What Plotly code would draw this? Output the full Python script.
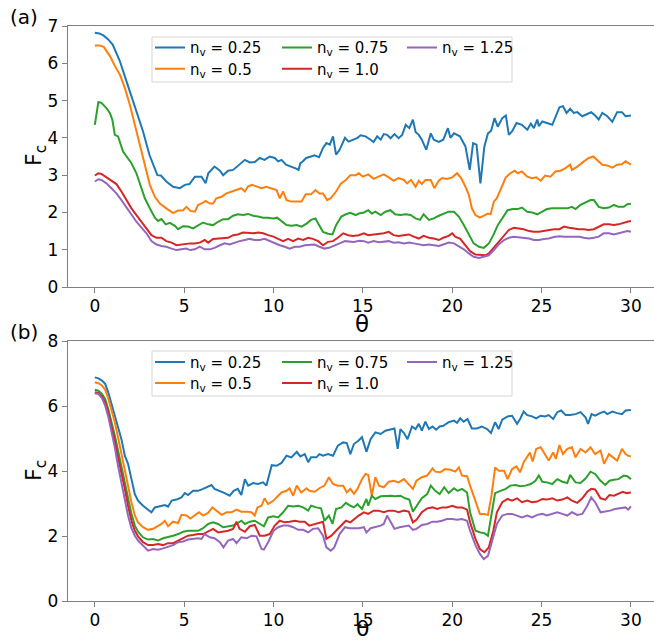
import plotly.graph_objects as go

# ---------------- data (theta, F_c) ----------------
NV_LABELS = ["0.25", "0.5", "0.75", "1.0", "1.25"]
COLORS = ["#1f77b4", "#ff7f0e", "#2ca02c", "#d62728", "#9467bd"]

a_025 = [(0,6.82),(0.25,6.80),(0.5,6.74),(0.75,6.64),(1.0,6.5),(1.4,6.06),(1.77,5.52),(2.33,4.71),(2.7,4.17),(3.06,3.54),(3.5,3.0),(3.7,2.99),(4.0,2.83),(4.38,2.69),(4.76,2.65),(5.04,2.74),(5.3,2.76),(5.6,2.96),(5.97,2.96),(6.2,2.78),(6.35,3.05),(6.7,3.23),(7.0,3.12),(7.18,3.0),(7.46,3.12),(7.74,3.14),(8.1,3.28),(8.4,3.41),(8.67,3.34),(8.95,3.35),(9.23,3.46),(9.5,3.41),(9.79,3.50),(10.07,3.46),(10.26,3.37),(10.45,3.41),(10.7,3.28),(11.0,3.23),(11.3,3.17),(11.4,3.14),(11.5,3.32),(11.62,3.36),(11.83,3.46),(12.1,3.5),(12.3,3.53),(12.55,3.48),(12.77,3.73),(12.96,3.86),(13.15,3.82),(13.33,4.04),(13.5,3.55),(13.7,3.68),(14.0,4.0),(14.2,3.9),(14.45,3.95),(14.7,4.0),(14.87,4.07),(15.15,4.04),(15.43,3.95),(15.6,3.89),(15.8,4.04),(16.0,3.95),(16.17,4.1),(16.36,4.08),(16.55,3.99),(16.77,4.1),(17.0,3.99),(17.2,4.08),(17.4,4.35),(17.6,4.26),(17.8,4.49),(17.95,4.16),(18.13,4.08),(18.3,3.95),(18.55,3.68),(18.8,4.12),(18.97,3.95),(19.25,3.89),(19.5,3.95),(19.76,4.26),(19.9,4.0),(20.1,4.12),(20.43,4.04),(20.74,3.77),(20.98,3.14),(21.17,3.86),(21.36,3.82),(21.58,2.78),(21.8,3.77),(22.0,4.12),(22.18,4.19),(22.37,4.53),(22.55,4.3),(22.8,4.53),(23.0,4.6),(23.17,4.08),(23.35,4.17),(23.6,4.4),(23.9,4.35),(24.2,4.22),(24.4,4.38),(24.57,4.26),(24.76,4.49),(24.85,4.31),(25.04,4.44),(25.3,4.4),(25.6,4.35),(25.8,4.58),(26.0,4.82),(26.2,4.85),(26.4,4.67),(26.6,4.78),(26.8,4.67),(27.0,4.69),(27.28,4.58),(27.56,4.64),(27.78,4.69),(28.0,4.6),(28.2,4.49),(28.4,4.67),(28.68,4.58),(28.96,4.43),(29.23,4.69),(29.5,4.69),(29.7,4.58),(30.0,4.6)]

a_05 = [(0,6.48),(0.25,6.48),(0.5,6.44),(0.84,6.2),(1.12,5.93),(1.4,5.7),(1.68,5.34),(1.96,4.89),(2.24,4.35),(2.52,3.82),(2.8,3.28),(3.08,2.74),(3.36,2.42),(3.64,2.24),(4.0,2.11),(4.38,1.98),(4.66,2.05),(4.94,2.06),(5.13,2.15),(5.35,2.04),(5.6,2.02),(5.78,2.2),(5.97,2.24),(6.2,2.31),(6.44,2.24),(6.62,2.24),(6.8,2.38),(7.09,2.42),(7.37,2.51),(7.65,2.56),(7.93,2.6),(8.2,2.65),(8.4,2.56),(8.58,2.7),(8.8,2.74),(9.05,2.69),(9.33,2.65),(9.6,2.69),(9.9,2.65),(10.17,2.6),(10.35,2.38),(10.54,2.56),(10.73,2.33),(11.0,2.29),(11.3,2.29),(11.57,2.29),(11.8,2.49),(12.1,2.49),(12.35,2.6),(12.57,2.51),(12.77,2.51),(13.0,2.33),(13.2,2.38),(13.5,2.56),(13.78,2.78),(14.05,2.87),(14.3,3.0),(14.6,3.0),(14.77,3.05),(15.0,2.96),(15.3,3.02),(15.6,2.9),(15.87,2.96),(16.17,3.02),(16.45,2.94),(16.72,2.85),(17.0,2.92),(17.3,2.87),(17.48,2.78),(17.7,2.87),(17.95,2.69),(18.13,2.85),(18.3,2.76),(18.5,2.87),(18.8,2.87),(19.0,2.65),(19.25,2.85),(19.43,2.92),(19.7,2.9),(20.0,2.94),(20.27,3.05),(20.5,2.92),(20.74,2.69),(20.93,2.47),(21.1,2.11),(21.3,1.93),(21.55,1.86),(21.77,1.91),(22.0,1.97),(22.15,1.95),(22.33,2.29),(22.5,2.38),(22.75,2.65),(23.0,2.94),(23.25,3.05),(23.5,3.12),(23.67,3.05),(23.9,3.1),(24.2,2.96),(24.47,2.92),(24.7,2.94),(24.95,2.85),(25.2,2.99),(25.5,2.96),(25.78,3.1),(26.06,3.12),(26.34,3.19),(26.6,3.28),(26.7,3.14),(27.0,3.23),(27.37,3.37),(27.64,3.46),(27.9,3.5),(28.1,3.41),(28.4,3.28),(28.68,3.26),(28.96,3.2),(29.23,3.28),(29.5,3.29),(29.7,3.37),(30.0,3.28)]

a_075 = [(0,4.35),(0.2,4.96),(0.37,4.94),(0.65,4.8),(0.84,4.67),(0.98,4.49),(1.12,4.08),(1.3,4.04),(1.58,3.63),(1.77,3.5),(2.05,3.32),(2.33,3.05),(2.61,2.65),(2.8,2.38),(3.08,2.11),(3.36,1.86),(3.54,1.77),(3.73,1.82),(3.97,1.68),(4.2,1.72),(4.48,1.64),(4.66,1.55),(4.94,1.63),(5.22,1.62),(5.5,1.57),(5.78,1.66),(6.06,1.73),(6.34,1.68),(6.62,1.66),(6.9,1.75),(7.18,1.82),(7.46,1.82),(7.74,1.91),(8.0,1.95),(8.3,1.93),(8.58,1.96),(8.86,1.91),(9.14,1.89),(9.42,1.86),(9.7,1.86),(10.0,1.84),(10.2,1.86),(10.45,1.77),(10.73,1.66),(11.0,1.64),(11.3,1.66),(11.57,1.62),(11.85,1.7),(12.1,1.8),(12.35,1.84),(12.5,1.7),(12.77,1.48),(13.05,1.43),(13.3,1.41),(13.5,1.66),(13.8,1.89),(14.05,1.95),(14.3,1.99),(14.6,1.93),(14.77,1.97),(15.06,2.0),(15.3,2.06),(15.5,1.97),(15.7,2.02),(16.0,1.93),(16.26,2.02),(16.55,2.06),(16.8,1.95),(17.1,1.93),(17.4,1.95),(17.67,1.93),(17.95,1.84),(18.2,1.8),(18.4,1.95),(18.7,1.8),(18.97,1.84),(19.25,1.91),(19.5,1.97),(19.8,2.02),(20.1,2.02),(20.37,1.89),(20.65,1.66),(20.93,1.39),(21.2,1.17),(21.5,1.08),(21.77,1.05),(22.05,1.17),(22.3,1.39),(22.55,1.66),(22.85,1.89),(23.1,2.06),(23.4,2.09),(23.67,2.09),(23.9,2.13),(24.2,2.02),(24.47,2.0),(24.76,1.95),(25.04,2.02),(25.3,2.09),(25.6,2.11),(25.88,2.11),(26.16,2.13),(26.44,2.11),(26.7,2.15),(26.9,2.09),(27.18,2.2),(27.46,2.27),(27.74,2.33),(27.93,2.33),(28.2,2.15),(28.48,2.11),(28.77,2.13),(29.05,2.2),(29.3,2.15),(29.6,2.15),(29.8,2.22),(30.0,2.23)]

a_10 = [(0,2.99),(0.2,3.05),(0.37,3.03),(0.65,2.94),(0.93,2.83),(1.21,2.76),(1.49,2.56),(1.77,2.33),(2.05,2.11),(2.33,1.93),(2.61,1.75),(2.89,1.57),(3.17,1.39),(3.45,1.32),(3.73,1.32),(4.0,1.23),(4.3,1.19),(4.57,1.12),(4.85,1.14),(5.1,1.17),(5.35,1.17),(5.6,1.17),(5.87,1.19),(6.15,1.26),(6.34,1.19),(6.62,1.29),(6.9,1.3),(7.18,1.3),(7.46,1.32),(7.74,1.39),(8.0,1.41),(8.3,1.46),(8.58,1.44),(8.86,1.44),(9.14,1.46),(9.42,1.44),(9.7,1.39),(10.0,1.35),(10.26,1.29),(10.54,1.23),(10.82,1.29),(11.1,1.23),(11.38,1.3),(11.66,1.26),(11.94,1.32),(12.2,1.29),(12.5,1.23),(12.77,1.12),(13.05,1.21),(13.33,1.23),(13.6,1.32),(13.9,1.44),(14.18,1.39),(14.45,1.37),(14.77,1.39),(15.06,1.44),(15.3,1.39),(15.6,1.41),(15.87,1.41),(16.17,1.44),(16.45,1.48),(16.72,1.39),(17.0,1.37),(17.3,1.39),(17.57,1.41),(17.85,1.35),(18.13,1.3),(18.4,1.37),(18.7,1.32),(18.97,1.3),(19.25,1.26),(19.5,1.32),(19.8,1.37),(20.0,1.44),(20.17,1.35),(20.45,1.29),(20.74,1.12),(21.0,0.96),(21.3,0.87),(21.58,0.85),(21.86,0.85),(22.05,0.9),(22.33,1.05),(22.6,1.21),(22.9,1.37),(23.17,1.53),(23.45,1.59),(23.73,1.57),(24.0,1.55),(24.3,1.5),(24.57,1.48),(24.85,1.48),(25.13,1.5),(25.4,1.53),(25.7,1.55),(26.0,1.55),(26.26,1.62),(26.55,1.59),(26.8,1.57),(27.1,1.55),(27.37,1.55),(27.64,1.53),(27.93,1.55),(28.2,1.62),(28.48,1.68),(28.77,1.68),(29.05,1.66),(29.3,1.68),(29.6,1.73),(29.8,1.75),(30.0,1.77)]

a_125 = [(0,2.83),(0.2,2.89),(0.37,2.87),(0.65,2.78),(0.93,2.65),(1.21,2.51),(1.49,2.33),(1.77,2.13),(2.05,1.93),(2.33,1.75),(2.61,1.59),(2.89,1.44),(3.17,1.23),(3.45,1.14),(3.73,1.1),(4.0,1.08),(4.3,1.03),(4.57,0.99),(4.85,1.01),(5.1,1.03),(5.35,0.99),(5.6,1.01),(5.87,1.08),(6.15,1.01),(6.44,1.01),(6.7,1.05),(7.0,1.12),(7.27,1.17),(7.55,1.14),(7.83,1.19),(8.1,1.23),(8.4,1.26),(8.67,1.29),(8.95,1.26),(9.23,1.26),(9.5,1.29),(9.8,1.23),(10.07,1.17),(10.35,1.12),(10.63,1.08),(10.9,1.03),(11.2,1.08),(11.47,1.08),(11.75,1.12),(12.0,1.12),(12.3,1.14),(12.57,1.08),(12.85,1.03),(13.1,1.05),(13.4,1.12),(13.7,1.17),(14.0,1.23),(14.25,1.23),(14.5,1.21),(14.8,1.24),(15.06,1.23),(15.3,1.19),(15.6,1.23),(15.9,1.2),(16.17,1.21),(16.45,1.23),(16.72,1.19),(17.0,1.2),(17.3,1.17),(17.6,1.19),(17.85,1.17),(18.1,1.14),(18.4,1.12),(18.7,1.14),(18.97,1.12),(19.25,1.1),(19.5,1.14),(19.8,1.19),(20.1,1.17),(20.37,1.1),(20.65,1.01),(20.93,0.9),(21.2,0.81),(21.5,0.78),(21.77,0.81),(22.05,0.85),(22.33,0.99),(22.6,1.14),(22.9,1.26),(23.17,1.32),(23.45,1.35),(23.73,1.34),(24.0,1.32),(24.3,1.3),(24.57,1.26),(24.85,1.26),(25.13,1.29),(25.4,1.3),(25.7,1.34),(26.0,1.36),(26.26,1.35),(26.55,1.35),(26.8,1.37),(27.1,1.35),(27.37,1.32),(27.64,1.3),(27.93,1.32),(28.2,1.35),(28.48,1.44),(28.77,1.44),(29.05,1.41),(29.3,1.44),(29.6,1.46),(29.8,1.5),(30.0,1.48)]

b_025 = [(0,6.88),(0.2,6.85),(0.4,6.78),(0.58,6.68),(0.75,6.42),(0.93,6.06),(1.12,5.75),(1.3,5.34),(1.49,4.98),(1.68,4.47),(1.86,4.22),(2.05,3.75),(2.24,3.29),(2.42,3.09),(2.7,2.93),(2.98,2.81),(3.17,2.73),(3.36,2.88),(3.64,2.91),(3.92,2.95),(4.1,2.9),(4.3,3.09),(4.57,3.12),(4.85,3.19),(5.04,3.32),(5.22,3.26),(5.5,3.39),(5.78,3.39),(6.06,3.45),(6.34,3.52),(6.53,3.57),(6.7,3.45),(7.0,3.39),(7.27,3.32),(7.55,3.24),(7.77,3.39),(8.0,3.45),(8.2,3.26),(8.4,3.75),(8.58,3.55),(8.86,3.63),(9.14,3.6),(9.42,3.65),(9.6,3.55),(9.9,4.18),(10.17,4.16),(10.45,4.25),(10.73,4.47),(11.0,4.42),(11.3,4.59),(11.5,4.45),(11.75,4.52),(11.94,4.27),(12.1,4.42),(12.4,4.42),(12.57,4.52),(12.77,4.47),(13.05,4.52),(13.33,4.47),(13.6,4.78),(13.9,4.88),(14.1,4.86),(14.3,4.52),(14.5,4.83),(14.75,4.93),(14.95,5.04),(15.2,4.59),(15.43,4.98),(15.7,5.19),(16.0,5.14),(16.26,5.24),(16.55,5.29),(16.77,5.31),(16.95,4.68),(17.1,5.29),(17.3,5.17),(17.5,4.98),(17.75,5.37),(17.95,5.29),(18.13,5.45),(18.3,5.24),(18.5,5.52),(18.7,5.29),(18.9,5.37),(19.1,5.27),(19.3,5.37),(19.5,5.39),(19.8,5.5),(20.1,5.55),(20.27,5.48),(20.45,5.62),(20.64,5.52),(20.86,5.6),(21.1,5.31),(21.38,5.31),(21.66,5.37),(21.95,5.29),(22.17,5.17),(22.4,5.5),(22.6,5.29),(22.8,5.58),(23.1,5.68),(23.35,5.7),(23.63,5.45),(23.8,5.6),(24.0,5.83),(24.2,5.72),(24.47,5.68),(24.7,5.62),(24.95,5.7),(25.2,5.68),(25.4,5.72),(25.65,5.6),(25.88,5.81),(26.1,5.86),(26.35,5.72),(26.6,5.72),(26.9,5.75),(27.18,5.81),(27.46,5.65),(27.6,5.45),(27.8,5.75),(28.0,5.7),(28.27,5.78),(28.5,5.83),(28.68,5.75),(28.96,5.83),(29.23,5.78),(29.5,5.75),(29.7,5.86),(30.0,5.88)]

b_05 = [(0,6.73),(0.2,6.7),(0.4,6.63),(0.58,6.5),(0.75,6.24),(0.93,5.91),(1.12,5.5),(1.3,5.04),(1.49,4.52),(1.68,4.01),(1.86,3.5),(2.05,3.04),(2.24,2.63),(2.42,2.42),(2.7,2.27),(2.98,2.19),(3.26,2.22),(3.54,2.32),(3.73,2.37),(3.92,2.47),(4.1,2.3),(4.38,2.44),(4.66,2.4),(4.85,2.65),(5.13,2.63),(5.35,2.54),(5.6,2.65),(5.83,2.73),(6.06,2.63),(6.34,2.71),(6.58,2.88),(6.8,2.78),(7.1,2.65),(7.37,2.73),(7.65,2.73),(7.93,2.81),(8.2,2.75),(8.5,2.75),(8.77,2.73),(8.95,2.63),(9.1,2.88),(9.33,2.93),(9.5,3.16),(9.7,2.98),(10.0,3.09),(10.26,3.24),(10.45,3.34),(10.73,3.39),(10.9,3.47),(11.1,3.24),(11.3,3.55),(11.55,3.34),(11.85,3.47),(12.0,3.39),(12.3,3.36),(12.57,3.47),(12.85,3.55),(13.1,3.81),(13.33,3.6),(13.6,3.55),(13.9,3.55),(14.1,3.34),(14.3,3.45),(14.5,3.3),(14.7,3.45),(14.95,3.75),(15.15,3.91),(15.3,3.88),(15.5,3.24),(15.7,3.81),(15.9,3.55),(16.17,3.5),(16.45,3.67),(16.72,3.7),(17.0,3.65),(17.3,3.75),(17.57,3.6),(17.8,3.45),(18.0,3.7),(18.3,3.81),(18.6,3.86),(18.9,4.08),(19.05,3.98),(19.33,3.96),(19.6,4.06),(19.9,4.04),(20.18,3.98),(20.37,4.11),(20.55,3.86),(20.83,3.84),(21.0,3.55),(21.3,3.04),(21.55,2.68),(21.8,2.68),(22.0,2.65),(22.2,3.24),(22.4,4.11),(22.6,4.01),(22.9,4.01),(23.1,3.75),(23.35,4.06),(23.6,4.14),(23.8,3.96),(24.0,4.27),(24.2,4.42),(24.35,4.57),(24.5,4.29),(24.7,4.68),(24.95,4.73),(25.2,4.52),(25.4,4.32),(25.65,4.57),(25.8,4.37),(26.0,4.8),(26.2,4.52),(26.44,4.68),(26.7,4.73),(26.9,4.42),(27.18,4.68),(27.46,4.57),(27.74,4.73),(28.0,4.52),(28.3,4.63),(28.5,4.22),(28.77,4.52),(29.0,4.42),(29.23,4.32),(29.5,4.68),(29.7,4.52),(29.85,4.47),(30.0,4.45)]

b_075 = [(0,6.5),(0.2,6.47),(0.4,6.37),(0.58,6.22),(0.75,5.91),(0.93,5.55),(1.12,5.09),(1.3,4.63),(1.49,4.11),(1.68,3.65),(1.86,3.14),(2.05,2.68),(2.24,2.32),(2.42,2.13),(2.7,1.96),(2.98,1.89),(3.26,1.91),(3.54,1.86),(3.82,1.93),(4.1,1.96),(4.38,2.01),(4.66,2.06),(4.94,2.13),(5.22,2.16),(5.5,2.16),(5.78,2.16),(6.06,2.24),(6.34,2.37),(6.62,2.42),(6.9,2.37),(7.18,2.27),(7.46,2.3),(7.74,2.32),(8.0,2.4),(8.2,2.47),(8.4,2.37),(8.67,2.44),(8.95,2.47),(9.23,2.37),(9.46,2.3),(9.7,2.57),(10.0,2.61),(10.26,2.57),(10.54,2.73),(10.82,2.93),(11.1,2.91),(11.38,2.93),(11.66,2.88),(11.94,2.78),(12.1,2.93),(12.4,2.88),(12.66,2.85),(12.85,2.47),(13.1,2.63),(13.3,2.37),(13.5,2.83),(13.8,2.88),(14.05,3.02),(14.3,2.93),(14.5,2.88),(14.7,2.98),(14.95,2.83),(15.2,3.14),(15.3,2.93),(15.5,3.24),(15.7,3.14),(16.0,3.22),(16.26,3.24),(16.55,3.24),(16.8,3.22),(17.1,3.24),(17.37,3.16),(17.6,3.12),(17.8,2.75),(18.0,2.93),(18.3,3.16),(18.6,3.29),(18.8,3.55),(19.05,3.39),(19.3,3.29),(19.55,3.5),(19.8,3.32),(20.1,3.47),(20.3,3.39),(20.55,3.45),(20.83,3.34),(21.0,2.73),(21.3,2.16),(21.58,2.11),(21.8,2.09),(22.0,2.01),(22.2,2.63),(22.4,3.32),(22.7,3.39),(23.0,3.45),(23.25,3.55),(23.55,3.57),(23.8,3.53),(24.1,3.55),(24.4,3.6),(24.66,3.7),(24.85,3.86),(25.04,3.67),(25.3,3.65),(25.6,3.6),(25.88,3.75),(26.16,3.67),(26.44,3.63),(26.6,3.88),(26.9,3.65),(27.18,3.63),(27.46,3.77),(27.74,3.98),(28.0,3.91),(28.3,3.7),(28.57,3.57),(28.8,3.7),(29.05,3.73),(29.3,3.75),(29.6,3.86),(29.8,3.84),(30.0,3.75)]

b_10 = [(0,6.42),(0.2,6.4),(0.4,6.3),(0.58,6.11),(0.75,5.81),(0.93,5.39),(1.12,4.93),(1.3,4.42),(1.49,3.96),(1.68,3.45),(1.86,2.93),(2.05,2.47),(2.24,2.16),(2.42,1.99),(2.7,1.81),(2.98,1.72),(3.26,1.72),(3.54,1.75),(3.82,1.72),(4.1,1.78),(4.38,1.78),(4.66,1.86),(4.94,1.93),(5.22,2.01),(5.5,2.03),(5.78,2.06),(6.06,2.06),(6.34,2.13),(6.62,2.22),(6.9,2.11),(7.18,2.13),(7.46,2.16),(7.74,2.22),(7.93,2.44),(8.1,2.22),(8.4,2.13),(8.67,2.3),(8.95,2.34),(9.23,2.01),(9.5,2.01),(9.79,2.06),(10.07,2.32),(10.35,2.47),(10.63,2.42),(10.9,2.44),(11.2,2.47),(11.47,2.44),(11.75,2.44),(12.0,2.32),(12.3,2.37),(12.57,2.4),(12.77,2.44),(12.96,1.91),(13.24,2.01),(13.5,2.16),(13.8,2.32),(14.05,2.47),(14.3,2.42),(14.5,2.52),(14.77,2.63),(15.06,2.73),(15.3,2.68),(15.6,2.78),(15.87,2.78),(16.17,2.73),(16.45,2.78),(16.72,2.78),(17.0,2.73),(17.3,2.78),(17.57,2.75),(17.8,2.42),(18.0,2.5),(18.3,2.73),(18.6,2.85),(18.9,2.88),(19.16,2.83),(19.43,2.88),(19.7,2.88),(20.0,2.93),(20.27,2.88),(20.55,2.88),(20.83,2.81),(21.0,2.42),(21.3,1.91),(21.55,1.6),(21.8,1.5),(22.05,1.65),(22.3,2.16),(22.5,2.73),(22.8,3.04),(23.1,3.14),(23.35,3.09),(23.63,3.16),(23.9,3.04),(24.2,3.09),(24.47,3.04),(24.76,3.06),(25.04,3.14),(25.3,3.12),(25.6,3.16),(25.88,3.09),(26.16,3.12),(26.44,3.19),(26.7,3.09),(27.0,3.02),(27.28,3.16),(27.56,3.36),(27.78,3.45),(28.0,3.43),(28.3,3.16),(28.57,3.12),(28.8,3.26),(29.05,3.24),(29.3,3.29),(29.55,3.36),(29.75,3.32),(30.0,3.34)]

b_125 = [(0,6.39),(0.2,6.37),(0.4,6.24),(0.58,6.01),(0.75,5.68),(0.93,5.24),(1.12,4.73),(1.3,4.16),(1.49,3.65),(1.68,3.09),(1.86,2.63),(2.05,2.24),(2.24,2.01),(2.42,1.86),(2.7,1.7),(2.98,1.55),(3.26,1.6),(3.54,1.58),(3.82,1.62),(4.1,1.68),(4.38,1.72),(4.66,1.81),(4.94,1.83),(5.22,1.89),(5.5,1.91),(5.78,1.93),(5.97,1.91),(6.15,2.06),(6.44,1.96),(6.7,1.93),(7.0,1.81),(7.2,1.65),(7.46,1.86),(7.74,1.91),(7.93,1.78),(8.2,1.96),(8.5,1.93),(8.77,2.01),(9.05,1.99),(9.33,1.6),(9.46,1.58),(9.7,1.81),(10.0,2.16),(10.26,2.27),(10.54,2.32),(10.82,2.32),(11.1,2.27),(11.38,2.19),(11.66,2.19),(11.94,2.11),(12.2,2.22),(12.5,2.24),(12.77,2.01),(12.96,1.65),(13.2,1.55),(13.4,1.65),(13.7,2.06),(14.0,2.27),(14.25,2.24),(14.5,2.24),(14.77,2.24),(15.06,2.27),(15.2,2.11),(15.43,2.24),(15.7,2.27),(16.0,2.32),(16.17,2.37),(16.36,2.63),(16.55,2.44),(16.77,2.22),(17.05,2.27),(17.3,2.3),(17.57,2.32),(17.8,2.19),(18.0,2.22),(18.3,2.34),(18.6,2.37),(18.9,2.44),(19.16,2.44),(19.43,2.47),(19.7,2.52),(20.0,2.52),(20.27,2.5),(20.55,2.52),(20.83,2.47),(21.0,2.16),(21.3,1.72),(21.55,1.45),(21.77,1.29),(22.0,1.39),(22.25,1.86),(22.5,2.37),(22.8,2.63),(23.1,2.68),(23.35,2.68),(23.63,2.63),(23.9,2.57),(24.2,2.63),(24.47,2.57),(24.76,2.65),(25.04,2.68),(25.3,2.63),(25.6,2.68),(25.88,2.73),(26.16,2.68),(26.44,2.63),(26.7,2.73),(27.0,2.65),(27.28,2.68),(27.56,2.93),(27.78,3.19),(28.0,3.04),(28.3,2.73),(28.57,2.75),(28.84,2.78),(29.1,2.83),(29.4,2.85),(29.7,2.88),(29.85,2.81),(30.0,2.91)]

PANEL_A = [a_025, a_05, a_075, a_10, a_125]
PANEL_B = [b_025, b_05, b_075, b_10, b_125]

X_TICKS = [0, 5, 10, 15, 20, 25, 30]
Y_TICKS_A = [0, 1, 2, 3, 4, 5, 6, 7]
Y_TICKS_B = [0, 2, 4, 6, 8]
X_TITLE = "θ"
Y_TITLE = "F<sub>c</sub>"

# ---------------- layout geometry (pixels) ----------------
W, H = 654, 641
ML, MR, MT, MB = 68, 0, 26, 40
PW, PH = W - ML - MR, H - MT - MB


def px_x(px):
    return (px - ML) / PW


def px_y(py):
    return (H - MB - py) / PH


FONT = "DejaVu Sans"
SPINE = "#808080"

fig = go.Figure()

# legend slot positions: (line start px, row centre px) for each series
LEG_COLS = [155, 155, 282, 282, 407]
LEG_ROWS_A = [47.7, 69.0, 47.7, 69.0, 47.7]
LEG_ROWS_B = [362.3, 383.3, 362.3, 383.3, 362.3]

legends = {}
for panel, (series_list, xa, ya, rows) in enumerate([
        (PANEL_A, "x", "y", LEG_ROWS_A),
        (PANEL_B, "x2", "y2", LEG_ROWS_B)]):
    for i, series in enumerate(series_list):
        lid = "legend" if (panel == 0 and i == 0) else f"legend{panel * 5 + i + 1}"
        fig.add_trace(go.Scatter(
            x=[p[0] for p in series], y=[p[1] for p in series],
            mode="lines", line=dict(color=COLORS[i], width=2),
            name=f"n<sub>v</sub> = {NV_LABELS[i]}",
            xaxis=xa, yaxis=ya, legend=lid, showlegend=True))
        legends[lid] = dict(
            x=px_x(LEG_COLS[i] - 5), xanchor="left",
            y=px_y(rows[i]), yanchor="middle",
            bgcolor="rgba(0,0,0,0)", borderwidth=0,
            font=dict(family=FONT, size=15, color="#000"),
            itemwidth=30, tracegroupgap=0)

axis_common = dict(showline=True, linecolor=SPINE, linewidth=1.3,
                   ticks="outside", ticklen=5, tickwidth=1.3, tickcolor=SPINE,
                   showgrid=False, zeroline=False,
                   tickfont=dict(family=FONT, size=17, color="#000"))

top_dom = [px_y(287), 1.0]
bot_dom = [0.0, px_y(341)]
x_range = [-1.5, -1.5 + PW / 17.87]

fig.update_layout(
    width=W, height=H,
    margin=dict(l=ML, r=MR, t=MT, b=MB, autoexpand=False),
    paper_bgcolor="white", plot_bgcolor="white",
    font=dict(family=FONT, color="#000"),
    xaxis=dict(**axis_common, domain=[0, 1], range=x_range, anchor="y",
               tickvals=X_TICKS, mirror=True, ticklabelstandoff=-2),
    yaxis=dict(**axis_common, domain=top_dom, range=[0, 7], anchor="x",
               tickvals=Y_TICKS_A),
    xaxis2=dict(**axis_common, domain=[0, 1], range=x_range, anchor="y2",
                tickvals=X_TICKS, mirror=True, ticklabelstandoff=-2),
    yaxis2=dict(**axis_common, domain=bot_dom, range=[0, 8], anchor="x2",
                tickvals=Y_TICKS_B),
    **legends,
)

# legend frames
for y0, y1 in [(37, 82), (351, 396)]:
    fig.add_shape(type="rect", xref="paper", yref="paper",
                  x0=px_x(152), x1=px_x(512), y0=px_y(y1), y1=px_y(y0),
                  line=dict(color="#d6d6d6", width=1),
                  fillcolor="rgba(255,255,255,0.8)", layer="above")

# axis titles (placed as annotations for exact positioning)
fig.add_annotation(text=X_TITLE, xref="paper", yref="paper",
                   x=px_x(362), y=px_y(310), xanchor="center", yanchor="top",
                   showarrow=False, borderpad=0,
                   font=dict(family=FONT, size=23, color="#000"))
fig.add_annotation(text=X_TITLE, xref="paper", yref="paper",
                   x=px_x(362), y=px_y(642), xanchor="center", yanchor="bottom",
                   showarrow=False, borderpad=0,
                   font=dict(family=FONT, size=22, color="#000"))
for py in (156, 471):
    fig.add_annotation(text=Y_TITLE, xref="paper", yref="paper",
                       x=px_x(35), y=px_y(py), xanchor="center", yanchor="middle",
                       textangle=-90, showarrow=False, borderpad=0,
                       font=dict(family=FONT, size=22, color="#000"))

# panel labels
for text, py in [("(a)", 17), ("(b)", 332)]:
    fig.add_annotation(text=text, xref="paper", yref="paper",
                       x=px_x(8), y=px_y(py), xanchor="left", yanchor="middle",
                       showarrow=False, font=dict(family=FONT, size=20, color="#000"))

fig.write_html("out.html")
